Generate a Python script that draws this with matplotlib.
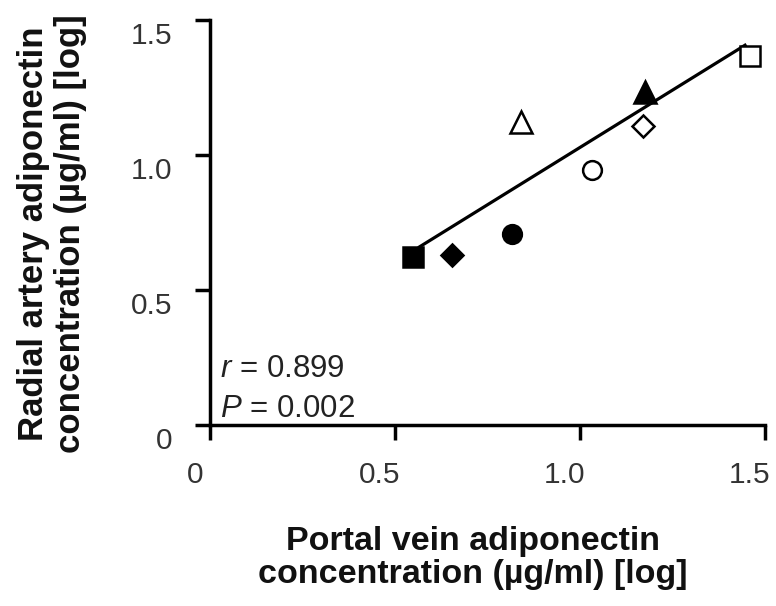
import matplotlib
matplotlib.use("Agg")
import matplotlib.pyplot as plt
from matplotlib.transforms import ScaledTranslation
import numpy as np

# Data (log10 adiponectin, µg/ml)
portal_vein = [0.549, 0.654, 0.816, 0.841, 1.032, 1.170, 1.176, 1.459]
radial_artery = [0.622, 0.630, 0.707, 1.122, 0.944, 1.107, 1.233, 1.367]
point_markers = ['s', 'D', 'o', '^', 'o', 'D', '^', 's']
point_filled = [True, True, True, False, False, False, True, False]

# Regression line
fit_slope = 0.849
fit_intercept = 0.179
fit_x_range = [0.566, 1.446]

x_ticks = [0, 0.5, 1.0, 1.5]
x_tick_labels = ['0', '0.5', '1.0', '1.5']
y_ticks = [0, 0.5, 1.0, 1.5]
y_tick_labels = ['0', '0.5', '1.0', '1.5']

r_text = '$r$ = 0.899'
p_text = '$P$ = 0.002'
x_label = 'Portal vein adiponectin\nconcentration (µg/ml) [log]'
y_label = 'Radial artery adiponectin\nconcentration (µg/ml) [log]'

plt.rcParams['font.family'] = ['Liberation Sans', 'DejaVu Sans']
plt.rcParams['mathtext.fontset'] = 'custom'
plt.rcParams['mathtext.rm'] = 'Liberation Sans'
plt.rcParams['mathtext.it'] = 'Liberation Sans:italic'

W, H = 776, 606
fig = plt.figure(figsize=(W / 100, H / 100), dpi=100)
left, right, top, bottom = 210, 765, 20, 425
ax = fig.add_axes([left / W, (H - bottom) / H, (right - left) / W, (bottom - top) / H])
ax.set_xlim(0, 1.5)
ax.set_ylim(0, 1.5)

marker_sizes = {'s': 14.5, 'D': 11.5, 'o': 13.5, '^': 15.5}
for x, y, m, f in zip(portal_vein, radial_artery, point_markers, point_filled):
    ax.plot([x], [y], linestyle='none', marker=m, markersize=marker_sizes[m],
            markerfacecolor='black' if f else 'white', markeredgecolor='black',
            markeredgewidth=1.8, zorder=3, clip_on=False)

fx = np.array(fit_x_range)
ax.plot(fx, fit_slope * fx + fit_intercept, color='black', linewidth=2.3, zorder=2)

for s in ['top', 'right']:
    ax.spines[s].set_visible(False)
for s in ['left', 'bottom']:
    ax.spines[s].set_linewidth(2.5)
    ax.spines[s].set_color('black')

ax.set_xticks(x_ticks)
ax.set_xticklabels(x_tick_labels)
ax.set_yticks(y_ticks)
ax.set_yticklabels(y_tick_labels)
ax.tick_params(axis='both', direction='out', length=10.8, width=2.5, color='black',
               labelsize=21.5, labelcolor='#333333')
ax.tick_params(axis='x', pad=15)
ax.tick_params(axis='y', pad=16.5)

# Labels in the reference sit left of / below their ticks
for lab in ax.get_xticklabels():
    lab.set_transform(lab.get_transform() + ScaledTranslation(-15 / 100, 0, fig.dpi_scale_trans))
for lab in ax.get_yticklabels():
    lab.set_transform(lab.get_transform() + ScaledTranslation(0, -13 / 100, fig.dpi_scale_trans))

ax.text(0.018, 0.1185, r_text, transform=ax.transAxes, fontsize=22.5, color='#222222',
        ha='left', va='baseline')
ax.text(0.018, 0.0198, p_text, transform=ax.transAxes, fontsize=22.5, color='#222222',
        ha='left', va='baseline')

fig.text(473 / W, 1 - 558 / H, x_label, ha='center', va='center', fontsize=24.5,
         fontweight='bold', color='#111111', linespacing=1.08)
fig.text(52 / W, 1 - 234 / H, y_label, ha='center', va='center', fontsize=25,
         fontweight='bold', color='#111111', rotation=90, linespacing=1.12)

fig.savefig('out.png', dpi=100)
